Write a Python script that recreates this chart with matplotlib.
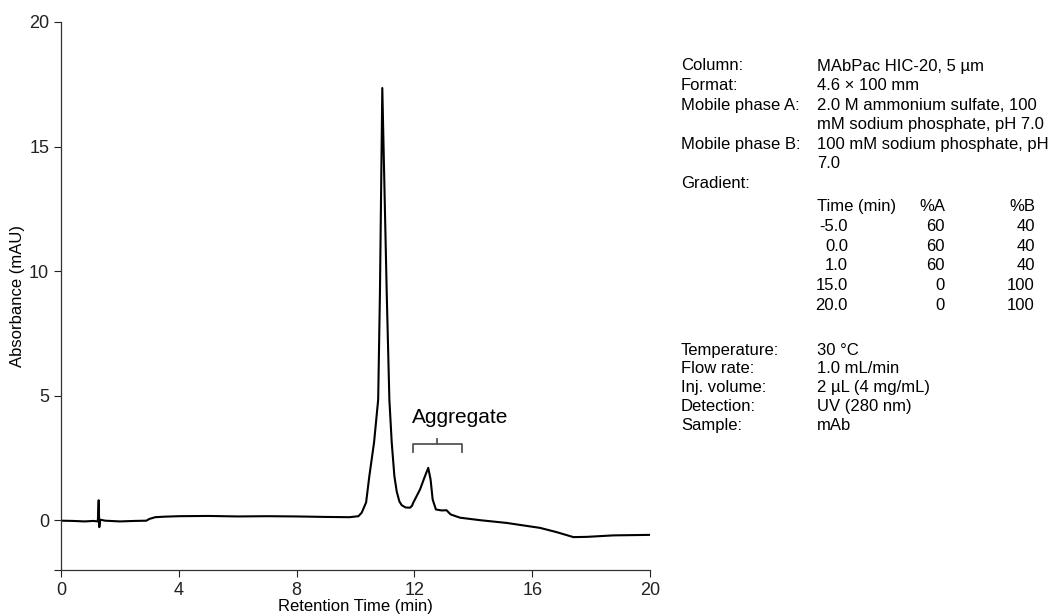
import numpy as np
import matplotlib
matplotlib.use("Agg")
import matplotlib.pyplot as plt

plt.rcParams['font.family'] = ['Liberation Sans', 'DejaVu Sans']

# chromatogram: time (min), absorbance (mAU)
time_min = [0.0, 0.4, 0.8, 1.1, 1.25, 1.28, 1.30, 1.33, 1.5, 2.0, 2.5, 2.9,
            3.0, 3.2, 3.5, 4.0, 5.0, 6.0, 7.0, 8.0, 9.0, 9.8, 10.1, 10.21,
            10.36, 10.47, 10.63, 10.77, 10.83, 10.91, 11.06, 11.15, 11.23,
            11.32, 11.40, 11.49, 11.57, 11.70, 11.85, 11.92, 11.96, 12.19,
            12.36, 12.47, 12.55, 12.62, 12.73, 12.93, 13.09, 13.23, 13.55,
            14.23, 15.13, 16.27, 16.83, 17.40, 17.85, 18.76, 20.0]
absorb = [-0.02, -0.03, -0.05, -0.03, -0.05, 0.80, -0.28, 0.02, -0.02, -0.05,
          -0.03, -0.02, 0.05, 0.12, 0.14, 0.16, 0.17, 0.15, 0.16, 0.15, 0.13,
          0.12, 0.16, 0.30, 0.71, 1.77, 3.12, 4.84, 9.13, 17.35, 9.13, 4.84,
          3.12, 1.77, 1.15, 0.75, 0.60, 0.51, 0.50, 0.58, 0.70, 1.23, 1.77,
          2.10, 1.63, 0.83, 0.43, 0.39, 0.40, 0.23, 0.10, 0.0, -0.11, -0.31,
          -0.48, -0.68, -0.67, -0.61, -0.59]

x_ticks = [0, 4, 8, 12, 16, 20]
y_ticks = [0, 5, 10, 15, 20]

# method conditions
cond_top = [("Column:", "MAbPac HIC-20, 5 \u00b5m"),
            ("Format:", "4.6 \u00d7 100 mm"),
            ("Mobile phase A:", "2.0 M ammonium sulfate, 100"),
            ("", "mM sodium phosphate, pH 7.0"),
            ("Mobile phase B:", "100 mM sodium phosphate, pH"),
            ("", "7.0"),
            ("Gradient:", "")]
grad_time = ["-5.0", "0.0", "1.0", "15.0", "20.0"]
grad_a = ["60", "60", "60", "0", "0"]
grad_b = ["40", "40", "40", "100", "100"]
cond_bottom = [("Temperature:", "30 \u00b0C"),
               ("Flow rate:", "1.0 mL/min"),
               ("Inj. volume:", "2 \u00b5L (4 mg/mL)"),
               ("Detection:", "UV (280 nm)"),
               ("Sample:", "mAb")]

W, H = 1050, 616
fig = plt.figure(figsize=(W / 100, H / 100), dpi=100)
ax = fig.add_axes([61 / W, 1 - 570 / H, 589 / W, 548 / H])

ax.plot(time_min, absorb, color='black', lw=1.5)
ax.set_xlim(0, 20)
ax.set_ylim(-2, 20)
ax.set_xticks(x_ticks)
ax.set_yticks([-2] + y_ticks)
ax.set_yticklabels([''] + [str(v) for v in y_ticks])
ax.tick_params(direction='out', length=5, width=0.8, labelsize=13, colors='#222222')
for s in ['top', 'right']:
    ax.spines[s].set_visible(False)
for s in ['left', 'bottom']:
    ax.spines[s].set_linewidth(0.9)
    ax.spines[s].set_color('#333333')

fig.text(355 / W, 1 - 606 / H, "Retention Time (min)", ha='center', va='center', fontsize=12)
fig.text(18 / W, 1 - 296 / H, "Absorbance (mAU)", ha='center', va='center',
         rotation=90, fontsize=12)

# aggregate bracket
bx0, bx1, bxc = 11.94, 13.61, 12.77
ax.plot([bx0, bx0, bx1, bx1], [2.73, 3.04, 3.04, 2.73], color='#555555', lw=1.3)
ax.plot([bxc, bxc], [3.04, 3.27], color='#555555', lw=1.3)
ax.text(11.9, 3.9, "Aggregate", fontsize=15, ha='left', va='baseline')

# conditions text block
lx, vx = 681 / W, 817 / W
fs = 12
pitch = 19.6
y = 66
for lab, val in cond_top:
    fig.text(lx, 1 - y / H, lab, fontsize=fs, va='center')
    fig.text(vx, 1 - y / H, val, fontsize=fs, va='center')
    y += pitch
y += 3.8
fig.text(vx, 1 - y / H, "Time (min)", fontsize=fs, va='center')
fig.text(945 / W, 1 - y / H, "%A", fontsize=fs, va='center', ha='right')
fig.text(1035 / W, 1 - y / H, "%B", fontsize=fs, va='center', ha='right')
for t, a, b in zip(grad_time, grad_a, grad_b):
    y += pitch
    fig.text(848 / W, 1 - y / H, t, fontsize=fs, va='center', ha='right')
    fig.text(945 / W, 1 - y / H, a, fontsize=fs, va='center', ha='right')
    fig.text(1035 / W, 1 - y / H, b, fontsize=fs, va='center', ha='right')
y = 350
for lab, val in cond_bottom:
    fig.text(lx, 1 - y / H, lab, fontsize=fs, va='center')
    fig.text(vx, 1 - y / H, val, fontsize=fs, va='center')
    y += 18.8

fig.savefig("out.png", dpi=100)
